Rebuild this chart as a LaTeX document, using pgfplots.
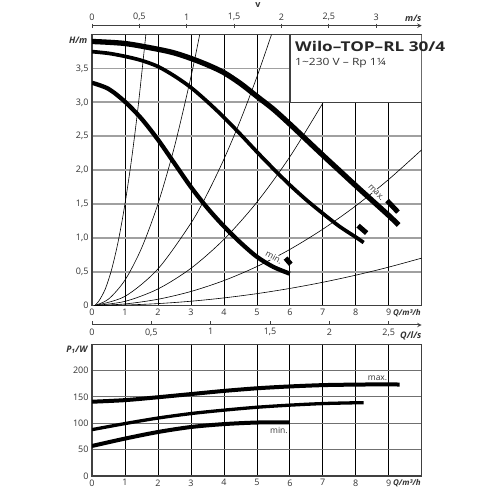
\documentclass[border=0pt]{standalone}
\usepackage{fontspec}
\setmainfont{Open Sans}
\newfontfamily\titlefont[FakeStretch=1.27]{Open Sans}
\newfontfamily\subfont[FakeStretch=1.2]{Open Sans}
\usepackage{pgfplots}
\pgfplotsset{compat=1.18}
\definecolor{gridgray}{HTML}{A0A0A0}
\definecolor{gridgray2}{HTML}{707070}
\definecolor{frame}{HTML}{404040}
\definecolor{txt}{HTML}{333333}
\pgfplotsset{
  base/.style={scale only axis, anchor=south west, width=329.7pt,
    xmin=0, xmax=10,
    tick label style={font=\fontsize{9}{10}\selectfont, text=txt},
    axis line style={draw=frame, line width=1.4pt},
    major tick length=0pt,
    grid=major,
    x grid style={black, line width=0.7pt},
    clip=true},
  scaleaxis/.style={scale only axis, anchor=south west, width=329.7pt, height=1pt,
    ymin=0, ymax=1, axis y line=none,
    axis line style={-, draw=frame, line width=1pt},
    tick style={draw=frame, line width=0.8pt},
    major tick length=4pt,
    tick label style={font=\fontsize{9}{10}\selectfont, text=txt}},
  sysc/.style={black, line width=0.6pt, smooth, no marks},
  pump/.style={black, smooth, no marks, line cap=butt, line join=round},
}
\begin{document}
\begin{tikzpicture}
\useasboundingbox (0pt,0pt) rectangle (490pt,490pt);

% velocity scale on top
\begin{axis}[scaleaxis, at={(92pt,463.3pt)}, xmin=0, xmax=3.48,
  axis x line=top, tick align=center,
  xtick={0,0.5,1,1.5,2,2.5,3},
  xticklabels={0,{0,5},1,{1,5},2,{2,5},3}]
\end{axis}

% upper chart H(Q)
\begin{axis}[base, at={(92pt,184.5pt)}, height=270.8pt,
  ymin=0, ymax=4,
  xtick={0,1,...,9}, xticklabels={0,1,2,3,4,5,6,7,8,9},
  ytick={0,0.5,1,1.5,2,2.5,3,3.5},
  yticklabels={0,{0,5},{1,0},{1,5},{2,0},{2,5},{3,0},{3,5}},
  y grid style={gridgray, line width=1.8pt}]
% system curves
\addplot[sysc] coordinates {(0.08,0)(0.2,0.06)(0.4,0.24)(0.6,0.54)(0.8,0.96)(1.0,1.5)(1.2,2.16)(1.4,2.94)(1.633,4.0)};
\addplot[sysc] coordinates {(0.08,0)(0.5,0.094)(1,0.375)(1.5,0.844)(2,1.5)(2.5,2.344)(3,3.375)(3.266,4.0)};
\addplot[sysc] coordinates {(0.08,0)(1,0.135)(2,0.54)(3,1.215)(3.5,1.654)(4,2.16)(4.5,2.734)(5,3.375)(5.443,4.0)};
\addplot[sysc] coordinates {(0.08,0)(1,0.061)(2,0.244)(3,0.549)(4,0.976)(5,1.525)(6,2.196)(7.013,3.0)};
\addplot[sysc] coordinates {(0.08,0)(1,0.023)(2,0.092)(3,0.207)(4,0.368)(5,0.575)(6,0.828)(7,1.127)(8,1.472)(9,1.863)(10,2.3)};
\addplot[sysc] coordinates {(0.08,0)(1,0.007)(2,0.028)(3,0.063)(4,0.112)(5,0.175)(6,0.252)(7,0.343)(8,0.448)(9,0.567)(10,0.7)};
% labels on the system curve
\node[fill=white, inner sep=0.6pt, rotate=-29, font=\fontsize{8.5}{9}\selectfont, text=txt] at (axis cs:5.52,0.71) {min.};
\node[fill=white, inner sep=0.6pt, rotate=-46, font=\fontsize{8.5}{9}\selectfont, text=txt] at (axis cs:8.62,1.67) {max.};
% pump curves
\addplot[pump, line width=5.3pt] coordinates {(0,3.90)(1,3.87)(2,3.785)(2.5,3.73)(3,3.65)(3.5,3.555)(4,3.44)(4.5,3.28)(5,3.09)(5.5,2.90)(6,2.68)(6.5,2.45)(7,2.22)(7.5,1.995)(8,1.77)(8.5,1.55)(9,1.33)(9.3,1.19)};
\addplot[pump, line width=3.7pt] coordinates {(0,3.75)(0.5,3.725)(1,3.68)(1.5,3.62)(2,3.53)(2.5,3.39)(3,3.22)(3.5,3.01)(4,2.78)(4.5,2.53)(5,2.27)(5.5,2.02)(6,1.78)(6.5,1.56)(7,1.36)(7.5,1.17)(8,1.01)(8.24,0.93)};
\addplot[pump, line width=4.3pt] coordinates {(0,3.29)(0.5,3.20)(1,3.01)(1.5,2.76)(2,2.45)(2.5,2.10)(3,1.75)(3.5,1.44)(4,1.17)(4.5,0.93)(5,0.72)(5.5,0.57)(6,0.47)};
% speed markers
\addplot[black, line width=5pt, no marks, line cap=butt] coordinates {(8.95,1.55)(9.28,1.38)};
\addplot[black, line width=5pt, no marks, line cap=butt] coordinates {(8.07,1.18)(8.33,1.07)};
\addplot[black, line width=5pt, no marks, line cap=butt] coordinates {(5.87,0.70)(6.03,0.61)};
% title box
\draw[fill=white, draw=frame, line width=1.4pt] (axis cs:6,3) rectangle (axis cs:10,4);
\end{axis}

% title text
\node[anchor=base west, inner sep=0pt, font=\titlefont\fontsize{13.5}{15}\selectfont\bfseries, text=black!85] at (295pt,438.3pt) {Wilo–TOP–RL 30/4};
\node[anchor=base west, inner sep=0pt, font=\subfont\fontsize{10}{12}\selectfont, text=txt] at (295pt,424pt) {1\textasciitilde 230 V – Rp 1¼};

% flow scale l/s
\begin{axis}[scaleaxis, at={(92pt,165pt)}, xmin=0, xmax=2.7778,
  axis x line=bottom, tick align=inside,
  xtick={0,0.5,1,1.5,2,2.5},
  xticklabels={0,{0,5},1,{1,5},2,{2,5}}]
\end{axis}

% lower chart P1(Q)
\begin{axis}[base, at={(92pt,14pt)}, height=131.7pt,
  ymin=0, ymax=250,
  xtick={0,1,...,9}, xticklabels={0,1,2,3,4,5,6,7,8,9},
  ytick={0,50,100,150,200},
  yticklabels={0,50,100,150,200},
  y grid style={gridgray2, line width=1pt}]
\addplot[pump, line width=4pt] coordinates {(0,141)(1,144)(2,149.5)(3,155.5)(4,161.5)(5,166.5)(6,170)(7,172.5)(8,173.5)(9,174)(9.33,173.5)};
\addplot[pump, line width=3.3pt] coordinates {(0,88)(1,99.5)(2,110)(3,118.5)(4,125)(5,130.5)(6,134.5)(7,137.5)(8,139)(8.24,139.2)};
\addplot[pump, line width=4pt] coordinates {(0,57)(1,71)(2,83.5)(3,93)(4,98.5)(5,101.5)(6,102)};
\node[font=\fontsize{8.5}{9}\selectfont, text=txt] at (axis cs:8.66,186) {max.};
\node[font=\fontsize{8.5}{9}\selectfont, text=txt] at (axis cs:5.67,86.8) {min.};
\end{axis}

% axis titles
\node[anchor=east, inner sep=0pt, font=\fontsize{9}{10}\selectfont\bfseries\itshape, text=txt] at (87.5pt,450pt) {H/m};
\node[anchor=east, inner sep=0pt, font=\fontsize{9}{10}\selectfont\bfseries\itshape, text=txt] at (87.5pt,140pt) {P\textsubscript{1}/W};
\node[anchor=east, inner sep=0pt, font=\fontsize{8}{9}\selectfont\bfseries\itshape, text=txt] at (421pt,177.3pt) {Q/m³/h};
\node[anchor=east, inner sep=0pt, font=\fontsize{8}{9}\selectfont\bfseries\itshape, text=txt] at (421pt,6.7pt) {Q/m³/h};
\node[anchor=east, inner sep=0pt, font=\fontsize{9}{10}\selectfont\bfseries\itshape, text=txt] at (421.5pt,154pt) {Q/l/s};
\node[anchor=east, inner sep=0pt, font=\fontsize{9}{10}\selectfont\bfseries\itshape, text=txt] at (421.5pt,471.7pt) {m/s};
\node[inner sep=0pt, font=\fontsize{9}{10}\selectfont\bfseries, text=txt] at (258pt,485pt) {v};
\end{tikzpicture}
\end{document}
